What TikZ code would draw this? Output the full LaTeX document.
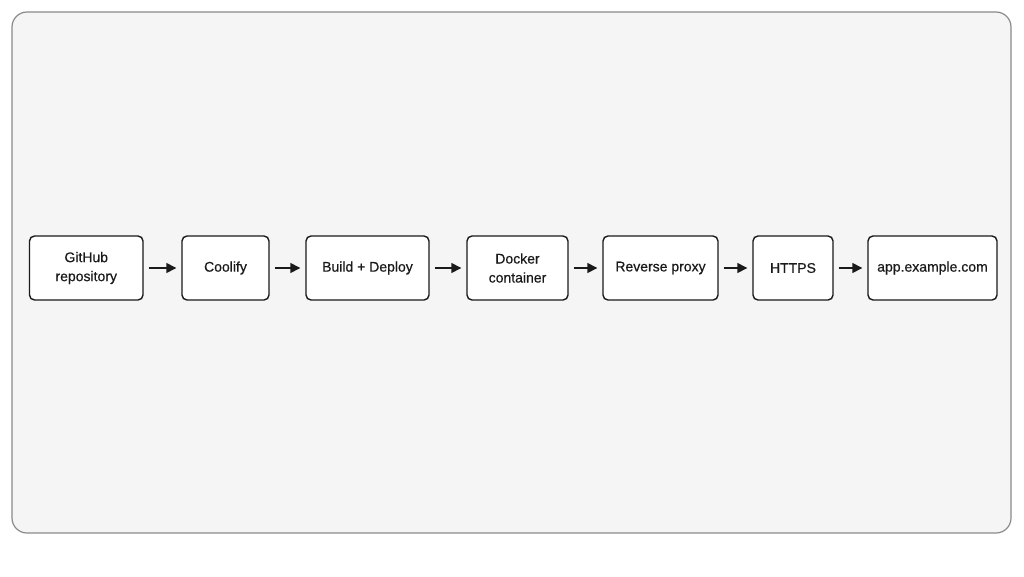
\documentclass[tikz,border=0pt]{standalone}
\usepackage{fontspec}
\setmainfont{Liberation Sans}
\newfontfamily\medfont{Liberation Sans}[FakeBold=0.5]
\usetikzlibrary{arrows.meta}
\definecolor{panelbg}{HTML}{F5F5F5}
\definecolor{panelline}{HTML}{8A8A8A}
\definecolor{ink}{HTML}{1A1A1A}
\begin{document}
\begin{tikzpicture}[x=1pt,y=-1pt,
  box/.style={draw=ink, line width=1.4pt, rounded corners=5pt, fill=white,
    minimum height=64pt, inner sep=0pt, align=center, text=ink,
    font=\medfont\fontsize{14}{19}\selectfont},
  flow/.style={-{Triangle[length=10pt,width=10pt]}, line width=1.4pt, draw=ink,
    shorten <=5pt, shorten >=5pt}]
\useasboundingbox (0,0) rectangle (1024,576);
\fill[white] (0,0) rectangle (1024,576);
\draw[panelline, line width=1.2pt, fill=panelbg, rounded corners=15pt] (12,12) rectangle (1011,533);
\node[box, minimum width=113.5pt] (gh) at (86.25,268) {GitHub\\repository};
\node[box, minimum width=87pt] (co) at (225.5,268) {Coolify};
\node[box, minimum width=123pt] (bd) at (367.5,268) {Build + Deploy};
\node[box, minimum width=101pt] (dc) at (517.5,268) {Docker\\container};
\node[box, minimum width=115pt] (rp) at (660.5,268) {Reverse proxy};
\node[box, minimum width=80pt] (hs) at (793,268) {HTTPS};
\node[box, minimum width=129pt] (app) at (932.5,268) {app.example.com};
\draw[flow] (gh) -- (co);
\draw[flow] (co) -- (bd);
\draw[flow] (bd) -- (dc);
\draw[flow] (dc) -- (rp);
\draw[flow] (rp) -- (hs);
\draw[flow] (hs) -- (app);
\end{tikzpicture}
\end{document}
